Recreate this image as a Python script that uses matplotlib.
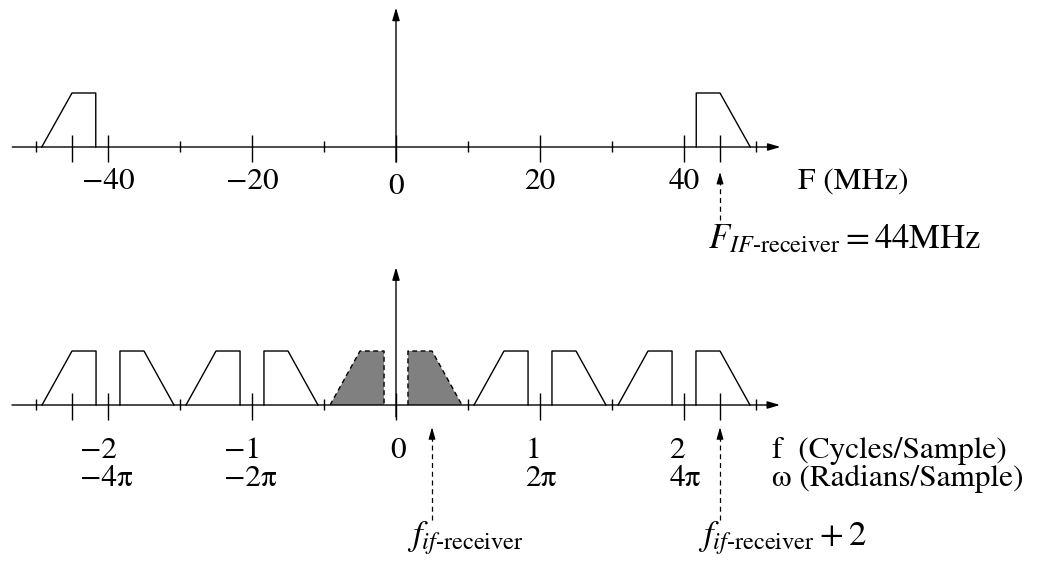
import matplotlib.pyplot as plt

plt.rcParams['font.family'] = ['STIXGeneral', 'Liberation Serif', 'DejaVu Serif']
plt.rcParams['mathtext.fontset'] = 'stix'

# spectrum before sampling, F in MHz
F_major = [-45, -40, -20, 0, 20, 40, 45]
F_minor = [-50, -30, -10, 10, 30, 50]
F_label_pos = [-40, -20, 0, 20, 40]
F_labels = ['\u221240', '\u221220', '0', '20', '40']
F_band = [41.7, 45, 49.2]      # vertical edge, end of flat top, end of slope
F_if = 45                      # where the IF arrow points (drawn on the tick)

# spectrum after sampling, f in cycles/sample
f_major = [-2.25, -2, -1, 0, 1, 2, 2.25]
f_minor = [-2.5, -1.5, -0.5, 0.5, 1.5, 2.5]
f_label_pos = [-2, -1, 0, 1, 2]
f_labels = ['\u22122', '\u22121', '0', '1', '2']
w_labels = ['\u22124\u03c0', '\u22122\u03c0', '', '2\u03c0', '4\u03c0']
f_band = [0.083, 0.25, 0.458]
f_shifts = [-2, -1, 0, 1, 2]
f_arrows = [0.25, 2.25]

FS = 22.5
FS_MATH = 25
LW = 1.0
head = '-|>,head_length=0.75,head_width=0.22'


def pos_band(b, k=0):
    return [b[0] + k, b[0] + k, b[1] + k, b[2] + k], [0, 1, 1, 0]


def neg_band(b, k=0):
    return [-b[2] + k, -b[1] + k, -b[0] + k, -b[0] + k], [0, 1, 1, 0]


def axis_arrow(ax, x0, y0, x1, y1):
    ax.annotate('', xy=(x1, y1), xytext=(x0, y0),
                arrowprops=dict(arrowstyle=head, color='k', lw=LW,
                                shrinkA=0, shrinkB=0))


def dashed_arrow(ax, x, y0, y1, hl):
    ax.plot([x, x], [y0, y1 - hl], color='k', lw=0.9, ls=(0, (4, 3)))
    ax.annotate('', xy=(x, y1), xytext=(x, y1 - hl),
                arrowprops=dict(arrowstyle='-|>,head_length=0.7,head_width=0.2',
                                color='k', lw=0.9, shrinkA=0, shrinkB=0))


fig = plt.figure(figsize=(10.42, 5.61), dpi=100)

# ---- top: analog spectrum ----
ax1 = fig.add_axes([0, 306 / 561, 1, 255 / 561])
ax1.set_xlim(-55, 89.72)
ax1.set_ylim(-2, 2.722)
ax1.axis('off')

axis_arrow(ax1, -53.3, 0, 53.4, 0)
axis_arrow(ax1, 0, -0.28, 0, 2.58)
ax1.vlines(F_major, -0.28, 0.22, color='k', lw=LW)
ax1.vlines(F_minor, -0.1, 0.11, color='k', lw=LW)

x, y = pos_band(F_band)
ax1.plot(x, y, color='k', lw=LW)
x, y = neg_band(F_band)
ax1.plot(x, y, color='k', lw=LW)

for p, t in zip(F_label_pos, F_labels):
    ax1.text(p, -0.74 if p == 0 else -0.65, t, fontsize=FS, ha='center', va='center')
ax1.text(55.8, -0.65, 'F (MHz)', fontsize=FS, ha='left', va='center')

dashed_arrow(ax1, F_if, -1.35, -0.46, 0.2)
ax1.text(43.3, -1.87, r'$F_{IF\text{-receiver}} = 44\mathrm{MHz}$',
         fontsize=FS_MATH, ha='left', va='baseline')

# ---- bottom: sampled spectrum ----
ax2 = fig.add_axes([0, 0, 1, 306 / 561])
ax2.set_xlim(-2.75, 4.486)
ax2.set_ylim(-2.889, 2.778)
ax2.axis('off')

for k in f_shifts:
    for band in (pos_band(f_band, k), neg_band(f_band, k)):
        x, y = band
        if k == 0:
            ax2.fill(x, y, color='#808080', lw=0)
            ax2.plot(x, y, color='k', lw=LW, ls=(0, (3.5, 2.5)))
        else:
            ax2.plot(x, y, color='k', lw=LW)

axis_arrow(ax2, -2.667, 0, 2.667, 0)
axis_arrow(ax2, 0, -0.22, 0, 2.55)
ax2.vlines(f_major, -0.28, 0.22, color='k', lw=LW)
ax2.vlines(f_minor, -0.1, 0.11, color='k', lw=LW)

for p, t, w in zip(f_label_pos, f_labels, w_labels):
    if p == 0:
        ax2.text(p + 0.014, -0.85, t, fontsize=FS, ha='center', va='center')
        continue
    xl = p - 0.194 if p < 0 else p - 0.1
    ax2.text(xl, -0.85, t, fontsize=FS, ha='left', va='center')
    ax2.text(xl, -1.37, w, fontsize=FS, ha='left', va='center')

ax2.text(2.611, -0.85, 'f  (Cycles/Sample)', fontsize=FS, ha='left', va='center')
ax2.text(2.611, -1.37, '\u03c9 (Radians/Sample)', fontsize=FS, ha='left', va='center')

for fa in f_arrows:
    dashed_arrow(ax2, fa, -2.13, -0.41, 0.2)
ax2.text(0.076, -2.59, r'$f_{if\text{-receiver}}$', fontsize=FS_MATH, ha='left', va='baseline')
ax2.text(2.097, -2.59, r'$f_{if\text{-receiver}} + 2$', fontsize=FS_MATH, ha='left', va='baseline')

fig.savefig('out.png', dpi=100)
